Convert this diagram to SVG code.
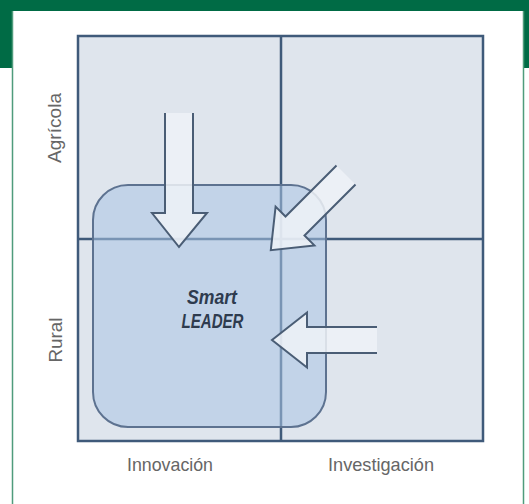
<svg xmlns="http://www.w3.org/2000/svg" width="529" height="504" viewBox="0 0 529 504">
  <style>
    .frame { fill: #006b45; }
    .edge { stroke: #4f9c7c; stroke-width: 1.5; fill: none; }
    .cell { fill: #dfe5ed; stroke: #3f5a7a; stroke-width: 2.5; }
    .gline { stroke: #3f5a7a; stroke-width: 2.5; fill: none; }
    .zone { fill: #a9c4e4; fill-opacity: 0.55; stroke: #5d7290; stroke-width: 2; }
    .arrow { fill: #eef2f7; fill-opacity: 0.85; stroke: #4a5d75; stroke-width: 2; stroke-linejoin: miter; }
    .axis { font-family: "Liberation Sans", Arial, sans-serif; font-size: 19px; fill: #666666; }
    .title { font-family: "Liberation Sans", Arial, sans-serif; font-size: 21px; font-weight: bold; font-style: italic; fill: #2e3b4e; }
  </style>
  <rect x="0" y="0" width="529" height="504" fill="#ffffff"/>
  <g id="frame">
    <rect class="frame" x="0" y="0" width="529" height="11"/>
    <rect class="frame" x="0" y="0" width="12" height="68"/>
    <rect class="frame" x="523" y="0" width="6" height="68"/>
    <line class="edge" x1="12.5" y1="11" x2="12.5" y2="504"/>
    <line class="edge" x1="523.5" y1="11" x2="523.5" y2="504"/>
  </g>
  <g id="grid">
    <rect class="cell" x="78" y="36" width="405" height="405"/>
    <line class="gline" x1="281" y1="36" x2="281" y2="441"/>
    <line class="gline" x1="78" y1="239" x2="483" y2="239"/>
  </g>
  <g id="smart-leader">
    <rect class="zone" x="93" y="185" width="233" height="242" rx="35" ry="35"/>
    <text class="title" x="212" y="304" text-anchor="middle" textLength="50" lengthAdjust="spacingAndGlyphs">Smart</text>
    <text class="title" x="212.5" y="328" text-anchor="middle" textLength="62" lengthAdjust="spacingAndGlyphs">LEADER</text>
  </g>
  <g id="connectors">
    <path class="arrow" d="M165,113 L165,213 L152,213 L179,247 L207,213 L193,213 L193,113"/>
    <path class="arrow" d="M336.5,165.5 L285.5,216.5 L275.6,206.6 L270.8,250.2 L314.4,245.4 L304.5,235.5 L355.5,184.5"/>
    <path class="arrow" d="M377,327 L307,327 L307,312.5 L272,340 L307,367.5 L307,353 L377,353"/>
  </g>
  <g id="labels">
    <text class="axis" transform="translate(61,128) rotate(-90)" text-anchor="middle" textLength="70" lengthAdjust="spacingAndGlyphs">Agrícola</text>
    <text class="axis" transform="translate(62,340) rotate(-90)" text-anchor="middle" textLength="45" lengthAdjust="spacingAndGlyphs">Rural</text>
    <text class="axis" x="170" y="471" text-anchor="middle" textLength="86" lengthAdjust="spacingAndGlyphs">Innovación</text>
    <text class="axis" x="381" y="471" text-anchor="middle" textLength="106" lengthAdjust="spacingAndGlyphs">Investigación</text>
  </g>
</svg>
